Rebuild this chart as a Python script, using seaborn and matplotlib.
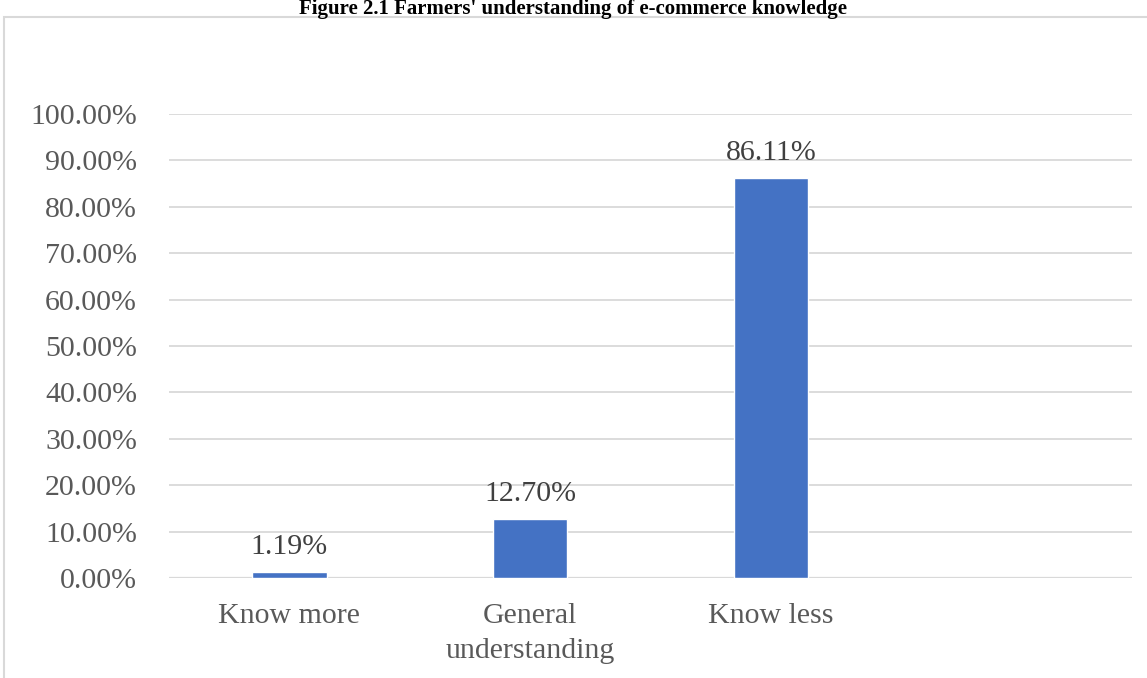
import numpy as np
import pandas as pd
import matplotlib
matplotlib.use("Agg")
import matplotlib.pyplot as plt
from matplotlib.patches import Rectangle
from matplotlib.ticker import FuncFormatter
import seaborn as sns

# === Data ===
categories = ["Know more", "General\nunderstanding", "Know less"]
values = [0.0119, 0.1270, 0.8611]
slots = categories + [""]  # Excel chart keeps an empty fourth slot
y_ticks = [0.0, 0.1, 0.2, 0.3, 0.4, 0.5, 0.6, 0.7, 0.8, 0.9, 1.0]
title = "Figure 2.1 Farmers' understanding of e-commerce knowledge"

BAR_COLOR = "#4472C4"
GRID_COLOR = "#D9D9D9"
TEXT_COLOR = "#595959"

sns.set_style("white")
plt.rcParams["font.family"] = ["Liberation Serif", "DejaVu Serif"]

df = pd.DataFrame({"category": categories, "value": values})

fig = plt.figure(figsize=(11.47, 6.78), dpi=100)
ax = fig.add_axes([169 / 1147, 1 - 578 / 678, (1132 - 169) / 1147, (578 - 114) / 678])

sns.barplot(data=df, x="category", y="value", order=slots, color=BAR_COLOR,
            width=0.31, saturation=1, ax=ax)

ax.set_ylim(0, 1.0)
ax.set_xlim(-0.5, len(slots) - 0.5)
ax.set_yticks(y_ticks)
ax.yaxis.set_major_formatter(FuncFormatter(lambda v, _: f"{v * 100:.2f}%"))
ax.grid(axis="y", color=GRID_COLOR, linewidth=1.3)
ax.set_axisbelow(True)
for s in ax.spines.values():
    s.set_visible(False)
ax.axhline(0, color=GRID_COLOR, linewidth=1.6, zorder=0.5)

ax.tick_params(axis="y", length=0, pad=23, labelsize=21.5, labelcolor=TEXT_COLOR)
ax.tick_params(axis="x", length=0, pad=18, labelsize=21.5, labelcolor=TEXT_COLOR)
for lbl in ax.get_xticklabels():
    lbl.set_linespacing(1.45)
ax.set_xlabel("")
ax.set_ylabel("")

# data labels
ax.bar_label(ax.containers[0], labels=[f"{v * 100:.2f}%" for v in values],
             padding=9, fontsize=21.5, color="#404040")

# chart border (only left/top visible in the crop)
fig.patches.append(Rectangle((4 / 1147, -0.05), 1.2, 1 - 17 / 678 + 0.05,
                             transform=fig.transFigure, fill=False,
                             edgecolor=GRID_COLOR, linewidth=1.5))

fig.text(573 / 1147, 1 - 14 / 678, title, ha="center", va="baseline",
         fontsize=15, fontweight="bold", color="black")

fig.savefig("out.png", dpi=100)
